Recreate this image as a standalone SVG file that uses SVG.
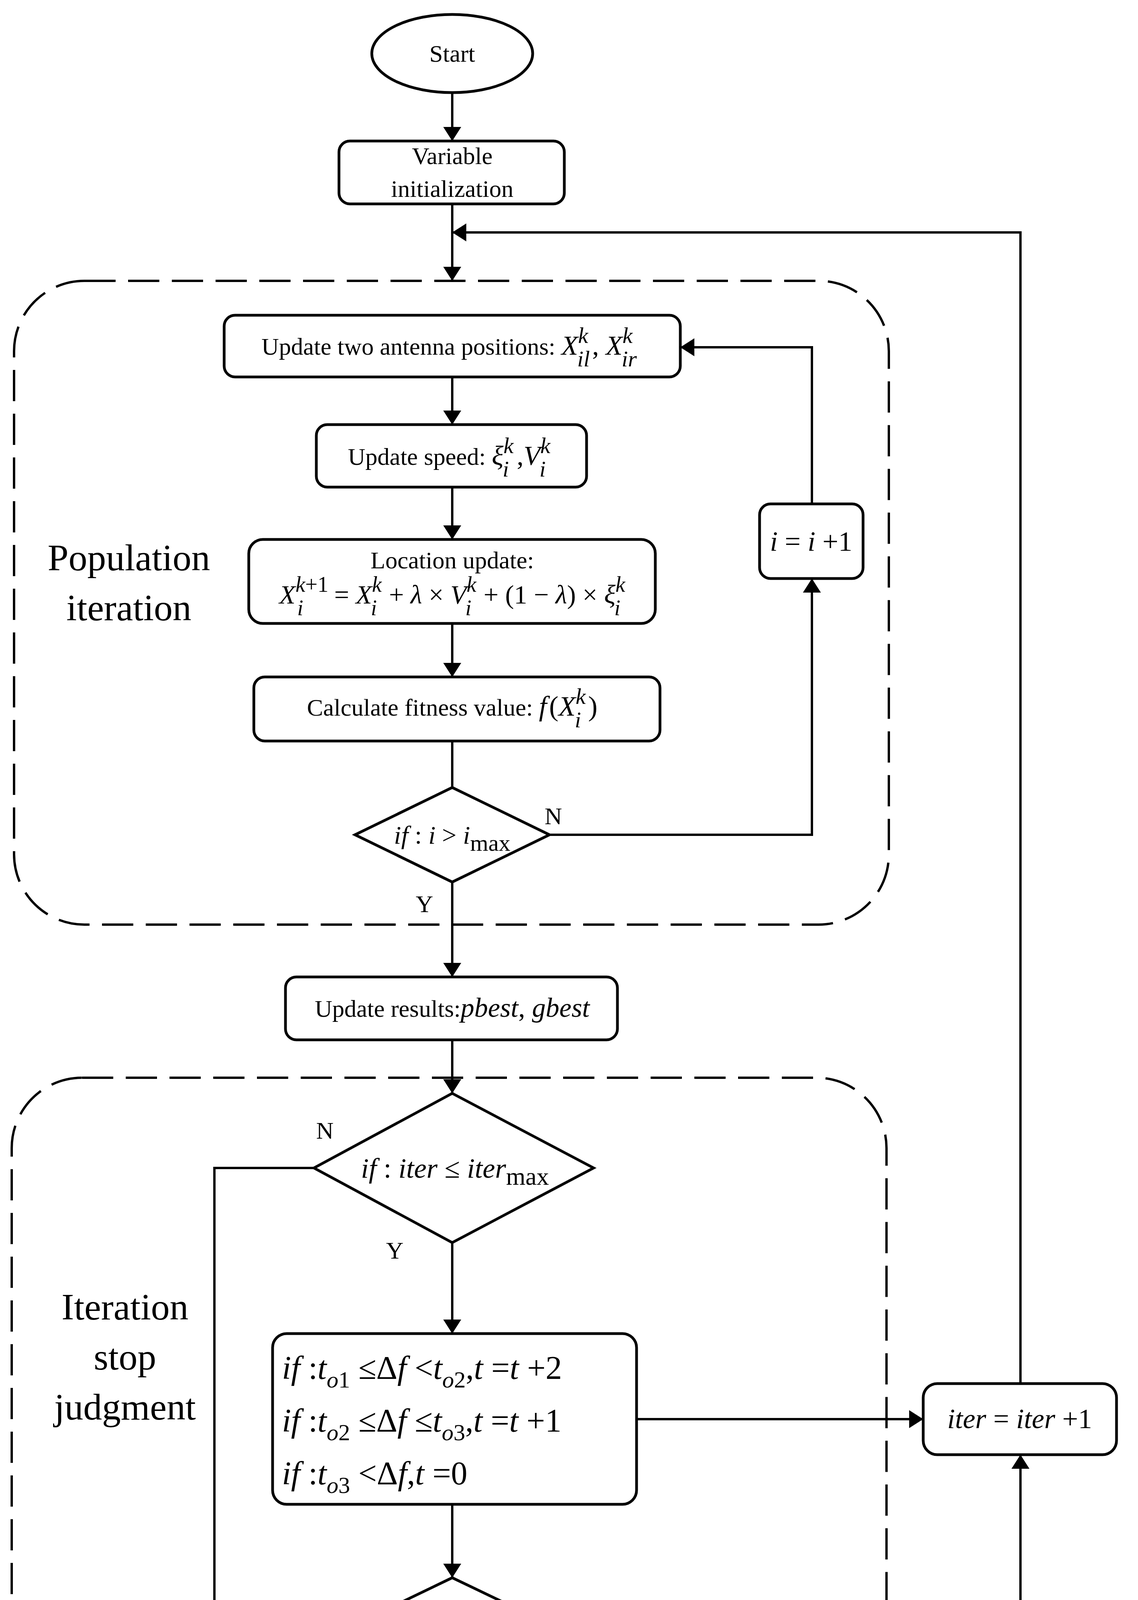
<svg xmlns="http://www.w3.org/2000/svg" width="2914" height="4789" viewBox="0 0 2914 4789">
<defs>
<marker id="a" viewBox="0 0 10 10" refX="10" refY="5" markerWidth="36" markerHeight="46" markerUnits="userSpaceOnUse" orient="auto" preserveAspectRatio="none"><path d="M0,0 L10,5 L0,10 z" fill="#000"/></marker>
<style>
.n{fill:#fff;stroke:#000;stroke-width:7}
.d{fill:none;stroke:#000;stroke-width:6;stroke-dasharray:80 32}
.c{fill:none;stroke:#000;stroke-width:6}
text{font-family:"Liberation Serif","Times New Roman",serif;fill:#000}
.t{font-size:62px;text-anchor:middle}
.m{font-style:italic}
.big{font-size:96px;text-anchor:middle}
.r{font-size:84px}
</style>
</defs>
<g id="dash1"><rect class="d" x="36" y="719" width="2240" height="1648" rx="180"/></g>
<g id="dash2"><rect class="d" x="30" y="2759" width="2240" height="1651" rx="180"/></g>
<g id="lbl1"><text class="big" x="330" y="1460">Population</text><text class="big" x="330" y="1588">iteration</text></g>
<g id="lbl2"><text class="big" x="320" y="3378">Iteration</text><text class="big" x="320" y="3506">stop</text><text class="big" x="320" y="3634">judgment</text></g>
<g id="connectors">
<path class="c" d="M1158,237 V361" marker-end="url(#a)"/>
<path class="c" d="M1158,522 V719" marker-end="url(#a)"/>
<path class="c" d="M2613,3542 V595 H1158" marker-end="url(#a)"/>
<path class="c" d="M1158,965 V1087" marker-end="url(#a)"/>
<path class="c" d="M1158,1247 V1381" marker-end="url(#a)"/>
<path class="c" d="M1158,1596 V1733" marker-end="url(#a)"/>
<path class="c" d="M1158,1897 V2016"/>
<path class="c" d="M1407,2137 H2079 V1481" marker-end="url(#a)"/>
<path class="c" d="M2079,1290 V889 H1742" marker-end="url(#a)"/>
<path class="c" d="M1158,2258 V2501" marker-end="url(#a)"/>
<path class="c" d="M1158,2662 V2799" marker-end="url(#a)"/>
<path class="c" d="M1158,3181 V3414" marker-end="url(#a)"/>
<path class="c" d="M1630,3633 H2364" marker-end="url(#a)"/>
<path class="c" d="M1158,3851 V4039" marker-end="url(#a)"/>
<path class="c" d="M1438,4173 H2613 V3724" marker-end="url(#a)"/>
<path class="c" d="M804,2990 H549 V4352 H1158" marker-end="url(#a)"/>
<path class="c" d="M1158,4307 V4513" marker-end="url(#a)"/>
</g>
<g id="start"><ellipse class="n" cx="1158" cy="137" rx="206" ry="100"/><text class="t" x="1158" y="158">Start</text></g>
<g id="init"><rect class="n" x="868" y="361" width="577" height="161" rx="28"/><text class="t" x="1158" y="420">Variable</text><text class="t" x="1158" y="504">initialization</text></g>
<g id="antenna"><rect class="n" x="574" y="807" width="1168" height="158" rx="28"/><text class="t" x="1150" y="908">Update two antenna positions: <tspan class="m" font-size="70">X</tspan><tspan class="m" font-size="58" dy="-30">k</tspan><tspan class="m" font-size="58" dx="-28" dy="60">il</tspan><tspan font-size="70" dx="6" dy="-30">, </tspan><tspan class="m" font-size="70">X</tspan><tspan class="m" font-size="58" dy="-30">k</tspan><tspan class="m" font-size="58" dx="-28" dy="60">ir</tspan></text></g>
<g id="speed"><rect class="n" x="810" y="1087" width="692" height="160" rx="28"/><text class="t" x="1150" y="1190">Update speed: <tspan class="m" font-size="70">ξ</tspan><tspan class="m" font-size="58" dy="-30">k</tspan><tspan class="m" font-size="58" dx="-28" dy="60">i</tspan><tspan font-size="70" dx="20" dy="-30">,</tspan><tspan class="m" font-size="70">V</tspan><tspan class="m" font-size="58" dy="-30">k</tspan><tspan class="m" font-size="58" dx="-28" dy="60">i</tspan></text></g>
<g id="location"><rect class="n" x="637" y="1381" width="1041" height="215" rx="36"/><text class="t" x="1158" y="1455">Location update:</text><text x="1158" y="1545" text-anchor="middle" font-size="68"><tspan class="m">X</tspan><tspan class="m" font-size="56" dy="-30">k</tspan><tspan font-size="56">+1</tspan><tspan class="m" font-size="56" dx="-80" dy="60">i</tspan><tspan dx="62" dy="-30"> = </tspan><tspan class="m">X</tspan><tspan class="m" font-size="56" dy="-30">k</tspan><tspan class="m" font-size="56" dx="-28" dy="60">i</tspan><tspan dx="14" dy="-30"> + </tspan><tspan class="m">λ</tspan><tspan> × </tspan><tspan class="m">V</tspan><tspan class="m" font-size="56" dy="-30">k</tspan><tspan class="m" font-size="56" dx="-28" dy="60">i</tspan><tspan dx="14" dy="-30"> + (1 − </tspan><tspan class="m">λ</tspan><tspan>) × </tspan><tspan class="m">ξ</tspan><tspan class="m" font-size="56" dy="-30">k</tspan><tspan class="m" font-size="56" dx="-28" dy="60">i</tspan></text></g>
<g id="fitness"><rect class="n" x="650" y="1733" width="1040" height="164" rx="28"/><text class="t" x="1158" y="1832">Calculate fitness value: <tspan class="m" font-size="72">f</tspan><tspan font-size="72" dx="6">(</tspan><tspan class="m" font-size="72">X</tspan><tspan class="m" font-size="58" dy="-30">k</tspan><tspan class="m" font-size="58" dx="-28" dy="60">i</tspan><tspan font-size="72" dx="18" dy="-30">)</tspan></text></g>
<g id="cond1"><polygon class="n" points="1158,2016 1407,2137 1158,2258 909,2137"/><text x="1158" y="2160" text-anchor="middle" font-size="66"><tspan class="m">if</tspan> : <tspan class="m">i</tspan> &gt; <tspan class="m">i</tspan><tspan font-size="60" dy="18">max</tspan></text><text class="t" x="1417" y="2110">N</text><text class="t" x="1087" y="2335">Y</text></g>
<g id="inc"><rect class="n" x="1945" y="1290" width="265" height="191" rx="28"/><text x="2077" y="1410" text-anchor="middle" font-size="72"><tspan class="m">i</tspan> = <tspan class="m">i</tspan> +1</text></g>
<g id="results"><rect class="n" x="731" y="2501" width="850" height="161" rx="28"/><text class="t" x="1158" y="2603">Update results:<tspan class="m" font-size="70">pbest</tspan><tspan font-size="70">, </tspan><tspan class="m" font-size="70">gbest</tspan></text></g>
<g id="cond2"><polygon class="n" points="1158,2799 1520,2990 1158,3181 804,2990"/><text x="1165" y="3015" text-anchor="middle" font-size="72"><tspan class="m">if</tspan> : <tspan class="m">iter</tspan> ≤ <tspan class="m">iter</tspan><tspan font-size="64" dy="18">max</tspan></text><text class="t" x="832" y="2915">N</text><text class="t" x="1011" y="3222">Y</text></g>
<g id="rules"><rect class="n" x="698" y="3414" width="932" height="437" rx="36"/>
<text class="r" x="722" y="3530"><tspan class="m">if</tspan> :<tspan class="m">t</tspan><tspan class="m" font-size="60" dy="22">o</tspan><tspan font-size="60">1</tspan><tspan dy="-22"> ≤Δ</tspan><tspan class="m">f</tspan> &lt;<tspan class="m">t</tspan><tspan class="m" font-size="60" dy="22">o</tspan><tspan font-size="60">2</tspan><tspan dy="-22">,</tspan><tspan class="m">t</tspan> =<tspan class="m">t</tspan> +2</text>
<text class="r" x="722" y="3665"><tspan class="m">if</tspan> :<tspan class="m">t</tspan><tspan class="m" font-size="60" dy="22">o</tspan><tspan font-size="60">2</tspan><tspan dy="-22"> ≤Δ</tspan><tspan class="m">f</tspan> ≤<tspan class="m">t</tspan><tspan class="m" font-size="60" dy="22">o</tspan><tspan font-size="60">3</tspan><tspan dy="-22">,</tspan><tspan class="m">t</tspan> =<tspan class="m">t</tspan> +1</text>
<text class="r" x="722" y="3800"><tspan class="m">if</tspan> :<tspan class="m">t</tspan><tspan class="m" font-size="60" dy="22">o</tspan><tspan font-size="60">3</tspan><tspan dy="-22"> &lt;Δ</tspan><tspan class="m">f</tspan>,<tspan class="m">t</tspan> =0</text></g>
<g id="iterinc"><rect class="n" x="2364" y="3542" width="495" height="182" rx="36"/><text x="2611" y="3656" text-anchor="middle" font-size="72"><tspan class="m">iter</tspan> = <tspan class="m">iter</tspan> +1</text></g>
<g id="cond3"><polygon class="n" points="1158,4039 1438,4173 1158,4307 880,4173"/><text x="1158" y="4198" text-anchor="middle" font-size="72"><tspan class="m">if</tspan> : <tspan class="m">t</tspan> &lt; <tspan class="m">t</tspan><tspan font-size="64" dy="18">max</tspan></text><text class="t" x="1405" y="4140">Y</text><text class="t" x="1071" y="4337">N</text></g>
<g id="end"><ellipse class="n" cx="1153" cy="4619" rx="218" ry="106"/><text class="t" x="1153" y="4640">End</text></g>
</svg>
